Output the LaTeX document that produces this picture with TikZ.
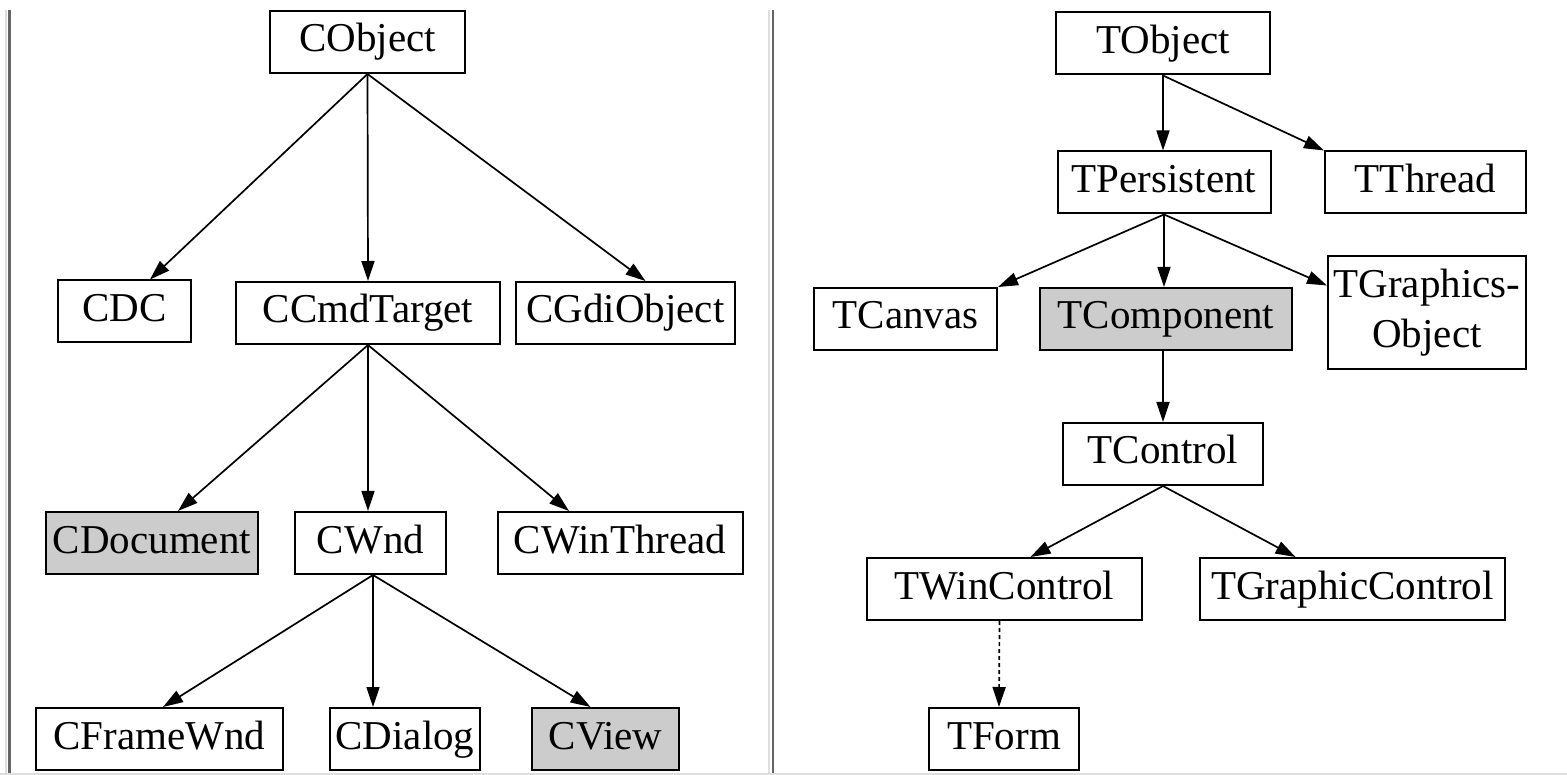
\documentclass[tikz,border=0pt]{standalone}
\usepackage{fontspec}
\setmainfont{Liberation Serif}
\usetikzlibrary{arrows.meta}
\definecolor{boxgray}{RGB}{204,204,204}
\definecolor{sepdark}{RGB}{100,100,100}
\definecolor{seplight}{RGB}{222,222,222}
\begin{document}
\begin{tikzpicture}[x=1pt,y=-1pt,
  cls/.style={draw=black, line width=2pt, fill=white, inner xsep=0pt, inner ysep=0pt,
              font=\fontsize{41}{50}\selectfont, anchor=center},
  one/.style={cls, text height=27pt, text depth=7pt, minimum height=62pt},
  hl/.style={fill=boxgray},
  edge/.style={line width=1.7pt, -{Triangle[length=20pt,width=13pt]}},
  dots/.style={edge, dash pattern=on 4pt off 3pt},
]
\useasboundingbox (0,0) rectangle (1567,775);
\fill[white] (0,0) rectangle (1567,775);
% separators
\draw[seplight, line width=2pt] (5.5,10) -- (5.5,775);
\draw[sepdark, line width=2.5pt] (9.5,10) -- (9.5,775);
\draw[seplight, line width=2pt] (769,10) -- (769,775);
\draw[sepdark, line width=2.5pt] (772.8,10) -- (772.8,775);
\draw[seplight, line width=2pt] (0,774) -- (1567,774);

% left tree
\node[one, minimum width=195pt] (cobject) at (367.5,42) {CObject};
\node[one, minimum width=133pt] (cdc) at (124.5,311.5) {CDC};
\node[one, minimum width=264pt] (ccmd) at (368,313) {CCmdTarget};
\node[one, minimum width=219pt] (cgdi) at (625.5,313) {CGdiObject};
\node[one, hl, minimum width=212pt] (cdoc) at (152,543) {CDocument};
\node[one, minimum width=151pt] (cwnd) at (370.5,543) {CWnd};
\node[one, minimum width=245pt] (cwin) at (620,543) {CWinThread};
\node[one, minimum width=247pt] (cframe) at (159.5,739) {CFrameWnd};
\node[one, minimum width=150pt] (cdialog) at (405,739) {CDialog};
\node[one, hl, minimum width=147pt] (cview) at (605.5,739) {CView};

\draw[edge] (cobject.south) -- ([xshift=25.5pt]cdc.north);
\draw[edge] (cobject.south) -- (ccmd.north);
\draw[edge] (cobject.south) -- ([xshift=20pt]cgdi.north);
\draw[edge] (ccmd.south) -- ([xshift=26pt]cdoc.north);
\draw[edge] (ccmd.south) -- (ccmd.south |- cwnd.north);
\draw[edge] (ccmd.south) -- ([xshift=-51pt]cwin.north);
\draw[edge] ([xshift=2.5pt]cwnd.south) -- ([xshift=3.5pt]cframe.north);
\draw[edge] ([xshift=2.5pt]cwnd.south) -- ([xshift=2.5pt]cwnd.south |- cdialog.north);
\draw[edge] ([xshift=2.5pt]cwnd.south) -- ([xshift=-15pt]cview.north);

% right tree
\node[one, minimum width=214pt] (tobject) at (1163,43.5) {TObject};
\node[one, minimum width=213pt] (tpers) at (1164,182.5) {TPersistent};
\node[one, minimum width=201pt] (tthread) at (1425.5,182.5) {TThread};
\node[one, minimum width=183pt] (tcanvas) at (905.5,319) {TCanvas};
\node[one, hl, minimum width=252pt] (tcomp) at (1166,319) {TComponent};
\node[cls, align=center, minimum width=198pt, minimum height=113pt] (tgo) at (1427,313) {TGraphics-\\Object};
\node[one, minimum width=200pt] (tcontrol) at (1163,454) {TControl};
\node[one, minimum width=275pt] (twin) at (1004.5,589) {TWinControl};
\node[one, minimum width=305pt] (tgc) at (1352.5,589) {TGraphicControl};
\node[one, minimum width=150pt] (tform) at (1004,739) {TForm};

\draw[edge] (tobject.south) -- (tobject.south |- tpers.north);
\draw[edge] (tobject.south) -- (tthread.north west);
\draw[edge] (tpers.south) -- (tcanvas.north east);
\draw[edge] (tpers.south) -- (tpers.south |- tcomp.north);
\draw[edge] (tpers.south) -- ([yshift=-30pt]tgo.north west);
\draw[edge] (tcontrol.north |- tcomp.south) -- (tcontrol.north);
\draw[edge] (tcontrol.south) -- ([xshift=26pt]twin.north);
\draw[edge] (tcontrol.south) -- ([xshift=-57pt]tgc.north);
\draw[dots] ([xshift=-5pt]twin.south) -- ([xshift=-5pt]tform.north);
\end{tikzpicture}
\end{document}
